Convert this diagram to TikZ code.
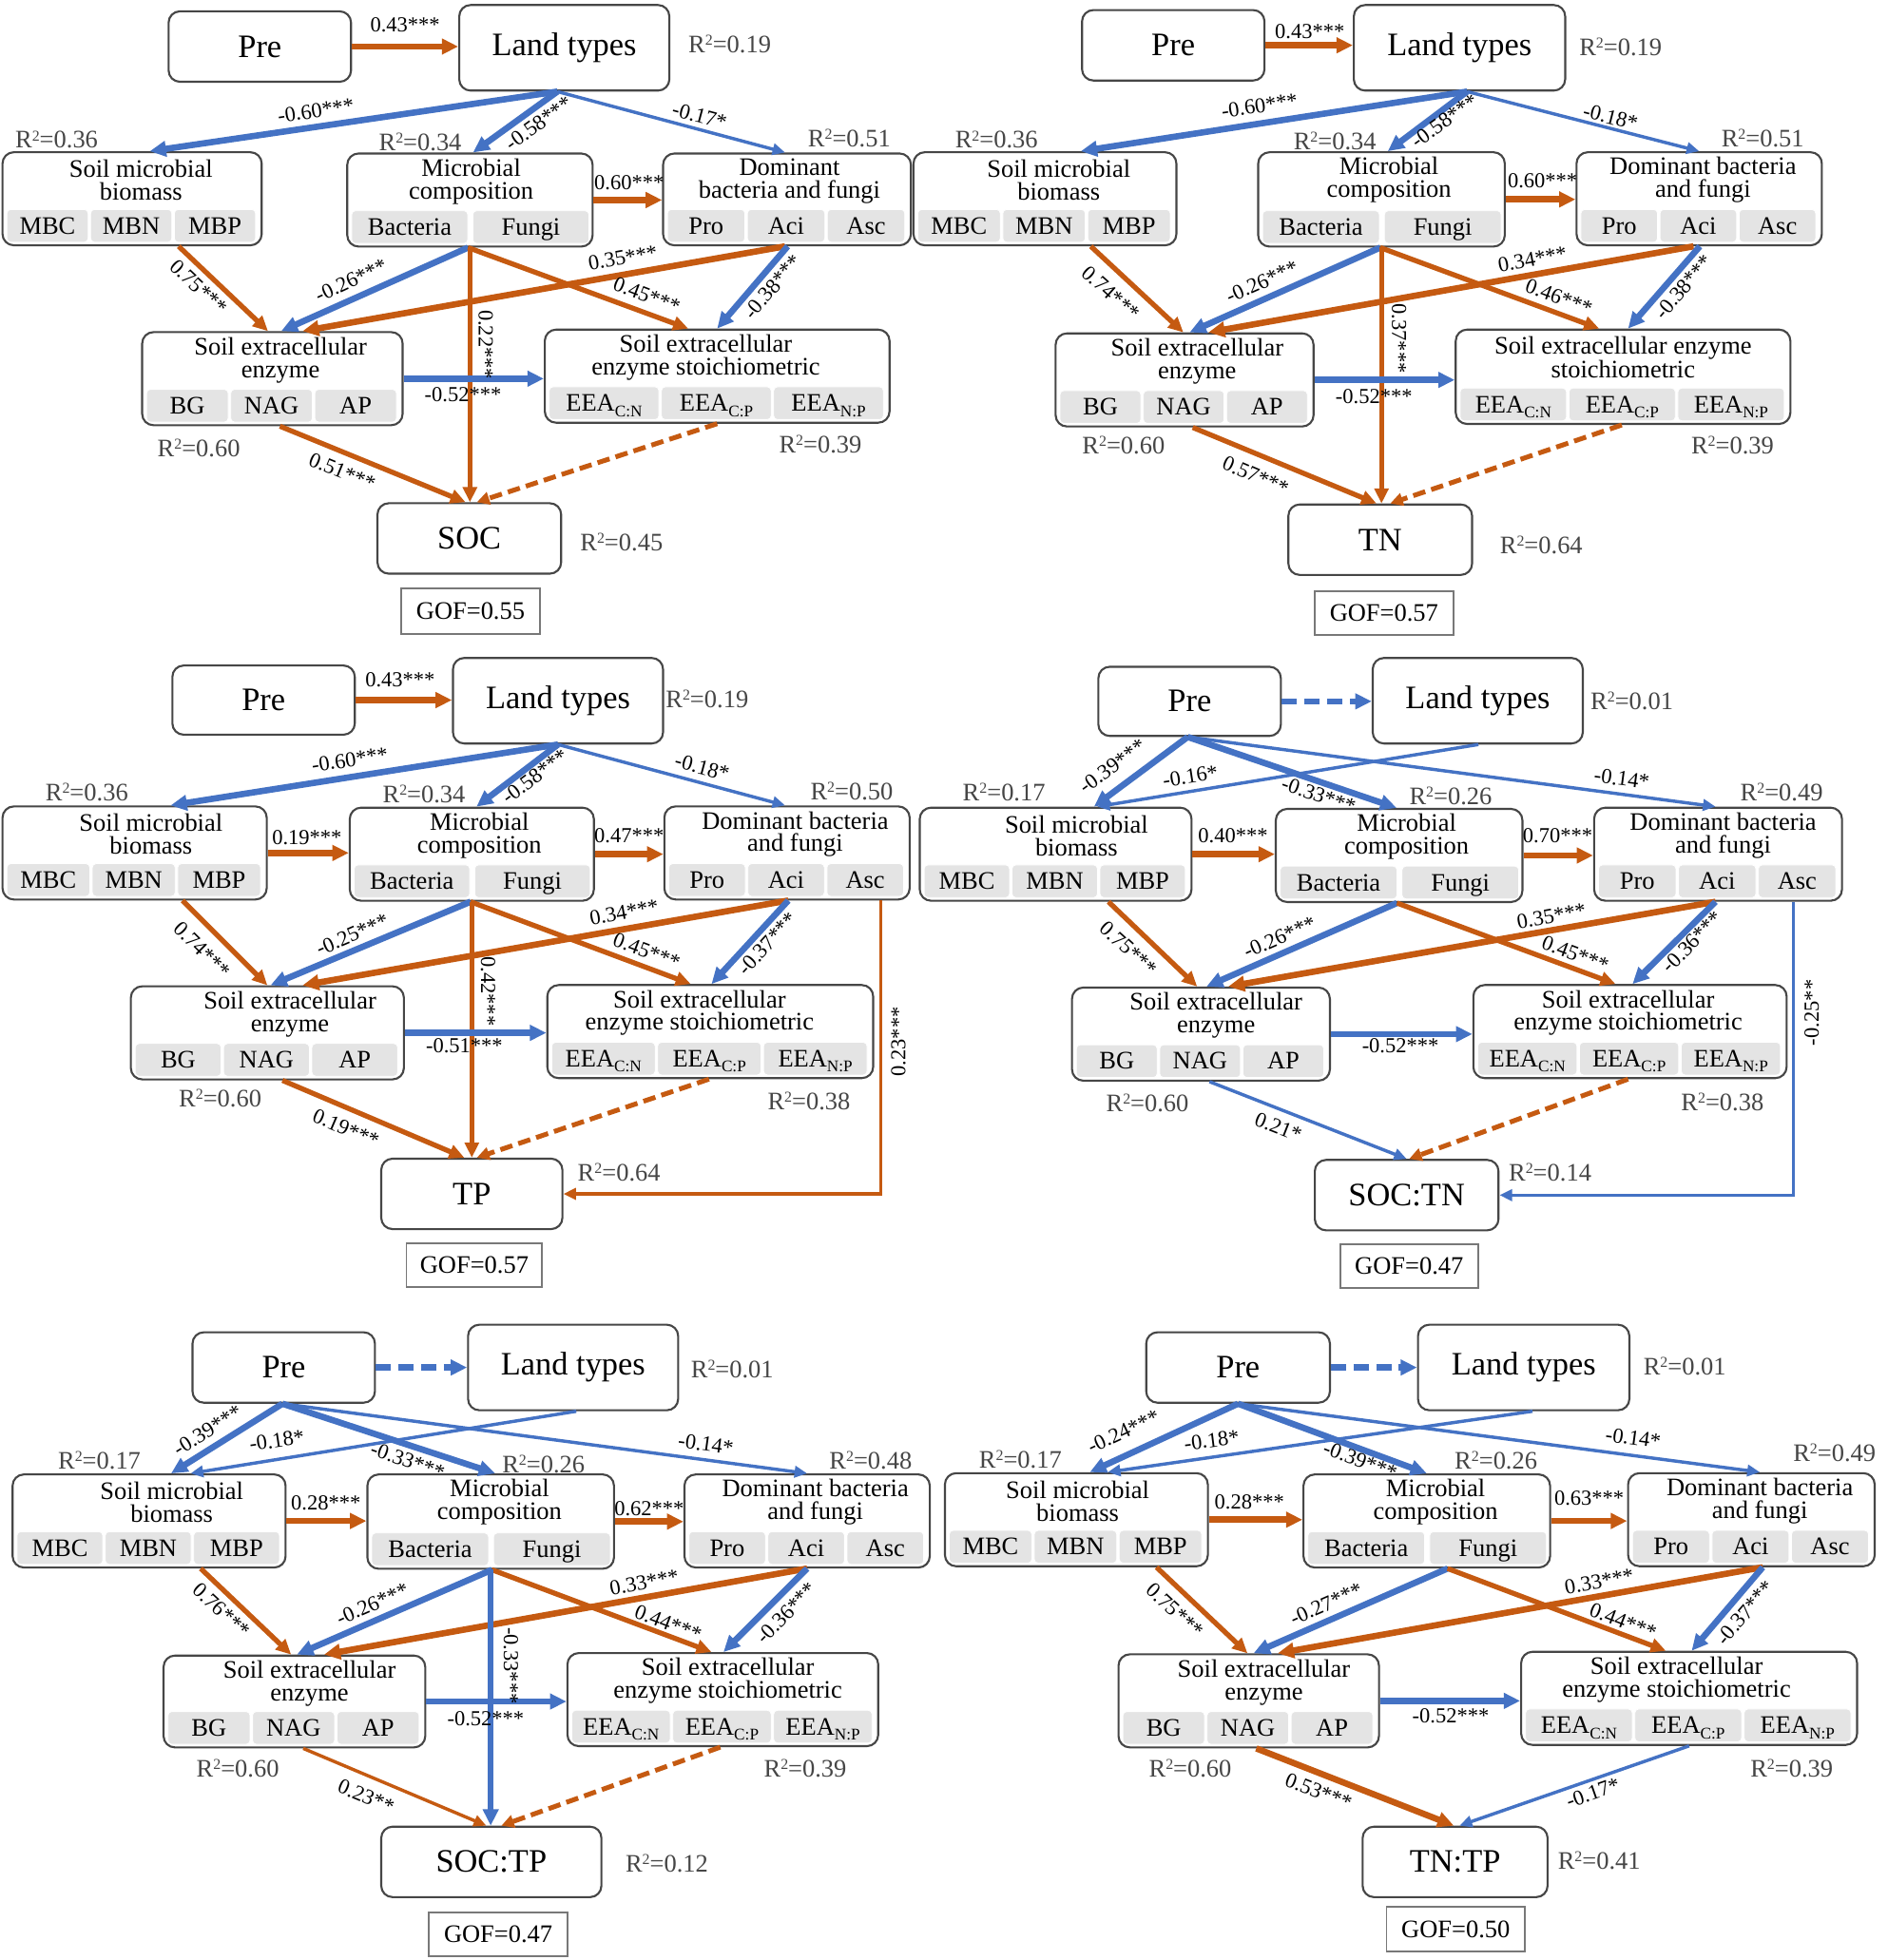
\documentclass[tikz,border=0pt]{standalone}
\usepackage{fontspec}
\setmainfont{Liberation Serif}
\usetikzlibrary{arrows.meta,fit,calc}
\definecolor{orng}{RGB}{197,90,17}
\definecolor{blu}{RGB}{68,114,196}
\definecolor{bordr}{RGB}{70,70,70}
\definecolor{cellg}{RGB}{228,228,228}
\definecolor{rgray}{RGB}{70,70,70}
\definecolor{gofc}{RGB}{120,120,120}
\newcommand\fs[1]{\fontsize{#1}{#1}\selectfont}
\newcommand\fsb[2]{\fontsize{#1}{#2}\selectfont}
\newcommand\subx[1]{\raisebox{-4pt}{\fontsize{13}{13}\selectfont #1}}
\newcommand\rsq[1]{R\raisebox{6pt}{\fontsize{12}{12}\selectfont 2}=#1}
\tikzset{
  bigbox/.style={draw=bordr, line width=1.6pt, rounded corners=9pt, inner sep=0pt, fill=white},
  subbox/.style={draw=bordr, line width=1.6pt, rounded corners=9pt, inner sep=0pt, fill=white},
  gofbox/.style={draw=gofc, line width=1.5pt, inner sep=0pt, fill=white},
  bigtxt/.style={font=\fs{26}, inner sep=0pt},
  goft/.style={font=\fs{20}, inner sep=0pt},
  ttl/.style={font=\fsb{20}{18}, align=center, inner sep=0pt},
  cellbox/.style={rectangle, rounded corners=3pt, fill=cellg, draw=white, line width=0.6pt,
    minimum height=26pt, inner sep=0pt, text height=13pt, text depth=0pt, font=\fs{20}},
  lbl/.style={font=\fs{17}, inner sep=0pt},
  rtw/.style={font=\fs{20}, text=rgray, inner sep=0pt},
  oThk/.style={draw=orng, line width=5pt, -{Triangle[length=13pt,width=12pt]}},
  oMid/.style={draw=orng, line width=4pt, -{Triangle[length=12pt,width=11pt]}},
  oThn/.style={draw=orng, line width=2.6pt, -{Triangle[length=10pt,width=9pt]}},
  bThk/.style={draw=blu, line width=5pt, -{Triangle[length=13pt,width=12pt]}},
  bMid/.style={draw=blu, line width=4pt, -{Triangle[length=12pt,width=11pt]}},
  bThn/.style={draw=blu, line width=2.6pt, -{Triangle[length=10pt,width=9pt]}},
  oDash/.style={draw=orng, line width=3.8pt, dash pattern=on 10pt off 5pt, -{Triangle[length=10pt,width=10pt]}},
  bDash/.style={draw=blu, line width=5pt, dash pattern=on 12pt off 6pt, -{Triangle[length=13pt,width=12pt]}}
}
\newcommand\bgbox[6]{\node[bigbox, fit={(#2,#3)(#4,#5)}] (#1) {}; \node[bigtxt] (#1t) at (#1.center) {#6};}
\newcommand\sbbox[7]{\node[subbox, fit={(#2,#3)(#4,#5)}] (#1) {}; \node[ttl] (#1t) at ([xshift=#6pt,yshift=-23pt]#1.north) {#7};}
\newcommand\gfbox[6]{\node[gofbox, fit={(#2,#3)(#4,#5)}] (#1) {}; \node[goft] (#1t) at (#1.center) {#6};}
\newcommand\cellsiii[4]{%
  \path let \p1=(#1.south west), \p2=(#1.south east), \n1={(\x2-\x1-14pt)/3} in
    node[cellbox, minimum width=\n1*1pt, anchor=south west] (#1a) at (\x1+4pt,\y1+3pt) {#2}
    node[cellbox, minimum width=\n1*1pt, anchor=south west] (#1b) at (\x1+6pt+\n1*1pt,\y1+3pt) {#3}
    node[cellbox, minimum width=\n1*1pt, anchor=south west] (#1c) at (\x1+8pt+2*\n1*1pt,\y1+3pt) {#4};}
\newcommand\cellsii[3]{%
  \path let \p1=(#1.south west), \p2=(#1.south east), \n1={(\x2-\x1-12pt)/2} in
    node[cellbox, minimum width=\n1*1pt, anchor=south west] (#1a) at (\x1+4pt,\y1+3pt) {#2}
    node[cellbox, minimum width=\n1*1pt, anchor=south west] (#1b) at (\x1+8pt+\n1*1pt,\y1+3pt) {#3};}
\newcommand\plbl[5]{\node[lbl, rotate=#4] (#1) at (#2,#3) {#5};}
\newcommand\rtwo[4]{\node[rtw] (#1) at (#2,#3) {\rsq{#4}};}
\newcommand\stdcells[1]{%
  \cellsiii{#1smb}{MBC}{MBN}{MBP}
  \cellsii{#1mc}{Bacteria}{Fungi}
  \cellsiii{#1dbf}{Pro}{Aci}{Asc}
  \cellsiii{#1see}{BG}{NAG}{AP}
  \cellsiii{#1sees}{EEA\subx{C:N}}{EEA\subx{C:P}}{EEA\subx{N:P}}}

\begin{document}
\begin{tikzpicture}[x=1pt,y=-1pt]
\fill[white] (0,0) rectangle (1500,1558);
\useasboundingbox (0,0) rectangle (1500,1558);

% ================= Panel 1 =================
\bgbox{p1pre}{134}{9}{279}{65}{Pre}
\bgbox{p1lt}{365}{4}{532}{72}{Land types}
\sbbox{p1smb}{2}{121}{208}{195}{7}{Soil microbial\\biomass}
\sbbox{p1mc}{276}{122}{471}{196}{1}{Microbial\\composition}
\sbbox{p1dbf}{527}{122}{724}{195}{2}{Dominant\\bacteria and fungi}
\sbbox{p1see}{113}{264}{320}{338}{6.5}{Soil extracellular\\enzyme}
\sbbox{p1sees}{433}{262}{707}{336}{-9}{Soil extracellular\\enzyme stoichiometric}
\stdcells{p1}
\bgbox{p1out}{300}{400}{446}{456}{SOC}
\gfbox{p1gof}{319}{468}{429}{504}{GOF=0.55}

\draw[oThk] (p1pre.east) -- (p1pre.east -| p1lt.west);
\draw[bThk] ([xshift=-5.5pt]p1lt.south) -- ([xshift=14pt]p1smb.north);
\draw[bThk] ([xshift=-5.5pt]p1lt.south) -- ([xshift=2.5pt]p1mc.north);
\draw[bThn] ([xshift=-5.5pt]p1lt.south) -- ([xshift=-1.5pt]p1dbf.north);
\draw[oThk] (p1mc.east) -- (p1mc.east -| p1dbf.west);
\draw[oMid] ([xshift=37pt]p1smb.south) -- ([xshift=-3.5pt]p1see.north);
\draw[bThk] ([xshift=-1.5pt]p1mc.south) -- ([xshift=7pt]p1see.north);
\draw[oThk] ([xshift=-1.5pt]p1dbf.south) -- ([xshift=24pt]p1see.north);
\draw[oMid] ([xshift=-1.5pt]p1mc.south) -- ([xshift=-23pt]p1sees.north);
\draw[bThk] ([xshift=0.5pt]p1dbf.south) -- (p1sees.north);
\draw[oMid] (p1mc.south) -- (p1mc.south |- p1out.north);
\draw[bThk] (p1see.east) -- (p1see.east -| p1sees.west);
\draw[oMid] ([xshift=6pt]p1see.south) -- ([xshift=-3pt]p1out.north);
\draw[oDash] (p1sees.south) -- ([xshift=6pt]p1out.north);

\rtwo{p1r1}{580}{35}{0.19}
\rtwo{p1r2}{45}{111}{0.36}
\rtwo{p1r3}{334}{113}{0.34}
\rtwo{p1r4}{675}{110}{0.51}
\rtwo{p1r5}{158}{356}{0.60}
\rtwo{p1r6}{652}{353}{0.39}
\rtwo{p1r7}{494}{431}{0.45}

\plbl{p1a}{322}{20}{0}{0.43***}
\plbl{p1b}{251}{88}{8.6}{-0.60***}
\plbl{p1c}{428}{98}{35.6}{-0.58***}
\plbl{p1d}{556}{92}{-15.1}{-0.17*}
\plbl{p1e}{500}{145}{0}{0.60***}
\plbl{p1f}{158}{228}{-43.3}{0.75***}
\plbl{p1g}{279}{223}{24.8}{-0.26***}
\plbl{p1h}{495}{205}{10}{0.35***}
\plbl{p1i}{514}{235}{-21}{0.45***}
\plbl{p1j}{614}{228}{49.7}{-0.38***}
\plbl{p1k}{386}{274}{-90}{0.22***}
\plbl{p1l}{368}{314}{0}{-0.52***}
\plbl{p1m}{272}{375}{-22.4}{0.51***}

% ================= Panel 2 =================
\bgbox{p2pre}{860}{8}{1005}{64}{Pre}
\bgbox{p2lt}{1076}{4}{1244}{72}{Land types}
\sbbox{p2smb}{726}{121}{935}{195}{11}{Soil microbial\\biomass}
\sbbox{p2mc}{1000}{121}{1196}{196}{6}{Microbial\\composition}
\sbbox{p2dbf}{1253}{121}{1448}{195}{3}{Dominant bacteria\\and fungi}
\sbbox{p2see}{839}{265}{1044}{339}{10}{Soil extracellular\\enzyme}
\sbbox{p2sees}{1157}{262}{1423}{337}{0}{Soil extracellular enzyme\\stoichiometric}
\stdcells{p2}
\bgbox{p2out}{1024}{401}{1170}{457}{TN}
\gfbox{p2gof}{1045}{470}{1155}{505}{GOF=0.57}

\draw[oThk] (p2pre.east) -- (p2pre.east -| p2lt.west);
\draw[bThk] ([xshift=6pt]p2lt.south) -- ([xshift=28.5pt]p2smb.north);
\draw[bThk] ([xshift=6pt]p2lt.south) -- ([xshift=5pt]p2mc.north);
\draw[bThn] ([xshift=6pt]p2lt.south) -- (p2dbf.north);
\draw[oThk] (p2mc.east) -- (p2mc.east -| p2dbf.west);
\draw[oMid] ([xshift=36.5pt]p2smb.south) -- ([xshift=-1pt]p2see.north);
\draw[bThk] ([xshift=-1pt]p2mc.south) -- ([xshift=4pt]p2see.north);
\draw[oThk] ([xshift=-4.5pt]p2dbf.south) -- ([xshift=19pt]p2see.north);
\draw[oMid] ([xshift=-1pt]p2mc.south) -- ([xshift=-19pt]p2sees.north);
\draw[bThk] ([xshift=0.5pt]p2dbf.south) -- ([xshift=4pt]p2sees.north);
\draw[oMid] (p2mc.south) -- (p2mc.south |- p2out.north);
\draw[bThk] (p2see.east) -- (p2see.east -| p2sees.west);
\draw[oMid] ([xshift=6.5pt]p2see.south) -- ([xshift=-3pt]p2out.north);
\draw[oDash] ([xshift=-1pt]p2sees.south) -- ([xshift=8pt]p2out.north);

\rtwo{p2r1}{1288}{37}{0.19}
\rtwo{p2r2}{792}{111}{0.36}
\rtwo{p2r3}{1061}{112}{0.34}
\rtwo{p2r4}{1401}{110}{0.51}
\rtwo{p2r5}{893}{354}{0.60}
\rtwo{p2r6}{1377}{354}{0.39}
\rtwo{p2r7}{1225}{433}{0.64}

\plbl{p2a}{1041}{25}{0}{0.43***}
\plbl{p2b}{1001}{84}{8.3}{-0.60***}
\plbl{p2c}{1148}{96}{35.6}{-0.58***}
\plbl{p2d}{1280}{93}{-14.3}{-0.18*}
\plbl{p2e}{1226}{144}{0}{0.60***}
\plbl{p2f}{883}{233}{-41.9}{0.74***}
\plbl{p2g}{1003}{224}{24}{-0.26***}
\plbl{p2h}{1218}{206}{10.4}{0.34***}
\plbl{p2i}{1239}{236}{-20.8}{0.46***}
\plbl{p2j}{1338}{228}{49.4}{-0.38***}
\plbl{p2k}{1112}{269}{-90}{0.37***}
\plbl{p2l}{1092}{315}{0}{-0.52***}
\plbl{p2m}{998}{378}{-23.3}{0.57***}

% ================= Panel 3 =================
\bgbox{p3pre}{137}{529}{282}{584}{Pre}
\bgbox{p3lt}{360}{523}{527}{591}{Land types}
\sbbox{p3smb}{2}{641}{212}{715}{13}{Soil microbial\\biomass}
\sbbox{p3mc}{278}{642}{472}{716}{6}{Microbial\\composition}
\sbbox{p3dbf}{528}{641}{723}{715}{6.5}{Dominant bacteria\\and fungi}
\sbbox{p3see}{104}{784}{321}{858}{18}{Soil extracellular\\enzyme}
\sbbox{p3sees}{435}{783}{694}{857}{-8.5}{Soil extracellular\\enzyme stoichiometric}
\stdcells{p3}
\bgbox{p3out}{303}{921}{447}{977}{TP}
\gfbox{p3gof}{323}{988}{431}{1023}{GOF=0.57}

\draw[oThk] (p3pre.east) -- (p3pre.east -| p3lt.west);
\draw[bThk] (p3lt.south) -- ([xshift=28.6pt]p3smb.north);
\draw[bThk] (p3lt.south) -- ([xshift=3.7pt]p3mc.north);
\draw[bThn] (p3lt.south) -- ([xshift=-1.5pt]p3dbf.north);
\draw[oThk] (p3smb.east) -- (p3smb.east -| p3mc.west);
\draw[oThk] (p3mc.east) -- (p3mc.east -| p3dbf.west);
\draw[oMid] ([xshift=38pt]p3smb.south) -- (p3see.north);
\draw[bThk] ([xshift=-1pt]p3mc.south) -- ([xshift=2.5pt]p3see.north);
\draw[oThk] ([xshift=1pt]p3dbf.south) -- ([xshift=28pt]p3see.north);
\draw[oMid] ([xshift=-1pt]p3mc.south) -- ([xshift=-15.5pt]p3sees.north);
\draw[bThk] ([xshift=1pt]p3dbf.south) -- ([xshift=1pt]p3sees.north);
\draw[oMid] (p3mc.south) -- (p3mc.south |- p3out.north);
\draw[bThk] (p3see.east) -- (p3see.east -| p3sees.west);
\draw[oMid] ([xshift=12pt]p3see.south) -- ([xshift=-6pt]p3out.north);
\draw[oDash] ([xshift=-1pt]p3sees.south) -- ([xshift=4pt]p3out.north);
\draw[oThn] ([xshift=74.5pt]p3dbf.south) |- (p3out.east);

\rtwo{p3r1}{562}{556}{0.19}
\rtwo{p3r2}{69}{630}{0.36}
\rtwo{p3r3}{337}{631}{0.34}
\rtwo{p3r4}{677}{629}{0.50}
\rtwo{p3r5}{175}{873}{0.60}
\rtwo{p3r6}{643}{875}{0.38}
\rtwo{p3r7}{492}{932}{0.64}

\plbl{p3a}{318}{540}{0}{0.43***}
\plbl{p3b}{278}{604}{8.7}{-0.60***}
\plbl{p3c}{425}{617}{36.7}{-0.58***}
\plbl{p3d}{558}{610}{-14.9}{-0.18*}
\plbl{p3e}{244}{666}{0}{0.19***}
\plbl{p3f}{500}{664}{0}{0.47***}
\plbl{p3g}{161}{755}{-44.8}{0.74***}
\plbl{p3h}{280}{743}{23.2}{-0.25***}
\plbl{p3i}{496}{725}{10.2}{0.34***}
\plbl{p3j}{514}{756}{-20.6}{0.45***}
\plbl{p3k}{610}{750}{47.3}{-0.37***}
\plbl{p3l}{388}{788}{-90}{0.42***}
\plbl{p3m}{369}{831}{0}{-0.51***}
\plbl{p3n}{275}{897}{-23.2}{0.19***}
\plbl{p3o}{714}{828}{90}{0.23***}

% ================= Panel 4 =================
\bgbox{p4pre}{873}{530}{1018}{585}{Pre}
\bgbox{p4lt}{1091}{523}{1258}{591}{Land types}
\sbbox{p4smb}{731}{642}{947}{716}{16.6}{Soil microbial\\biomass}
\sbbox{p4mc}{1014}{643}{1210}{717}{6}{Microbial\\composition}
\sbbox{p4dbf}{1267}{642}{1464}{716}{4}{Dominant bacteria\\and fungi}
\sbbox{p4see}{852}{785}{1057}{859}{12}{Soil extracellular\\enzyme}
\sbbox{p4sees}{1171}{783}{1420}{857}{-1.5}{Soil extracellular\\enzyme stoichiometric}
\stdcells{p4}
\bgbox{p4out}{1045}{922}{1191}{978}{SOC:TN}
\gfbox{p4gof}{1065}{989}{1175}{1024}{GOF=0.47}

\draw[bDash] (p4pre.east) -- (p4pre.east -| p4lt.west);
\draw[bThk] ([xshift=-1.5pt]p4pre.south) -- ([xshift=30.5pt]p4smb.north);
\draw[bThn] ([xshift=0.5pt]p4lt.south) -- ([xshift=33pt]p4smb.north);
\draw[bThk] ([xshift=-1.5pt]p4pre.south) -- ([xshift=-2pt]p4mc.north);
\draw[bThn] ([xshift=-1.5pt]p4pre.south) -- ([xshift=-2pt]p4dbf.north);
\draw[oThk] (p4smb.east) -- (p4smb.east -| p4mc.west);
\draw[oThk] (p4mc.east) -- (p4mc.east -| p4dbf.west);
\draw[oMid] ([xshift=42pt]p4smb.south) -- ([xshift=-3pt]p4see.north);
\draw[bThk] ([xshift=-1.7pt]p4mc.south) -- ([xshift=4.4pt]p4see.north);
\draw[oThk] ([xshift=-2pt]p4dbf.south) -- ([xshift=21.7pt]p4see.north);
\draw[oMid] ([xshift=-1.7pt]p4mc.south) -- ([xshift=-11.5pt]p4sees.north);
\draw[bThk] ([xshift=-2pt]p4dbf.south) -- ([xshift=2pt]p4sees.north);
\draw[bThk] (p4see.east) -- (p4see.east -| p4sees.west);
\draw[bThn] ([xshift=6.8pt]p4see.south) -- (p4out.north);
\draw[oDash] ([xshift=-1.5pt]p4sees.south) -- ([xshift=2pt]p4out.north);
\draw[bThn] ([xshift=60pt]p4dbf.south) |- (p4out.east);

\rtwo{p4r1}{1297}{557}{0.01}
\rtwo{p4r2}{798}{630}{0.17}
\rtwo{p4r3}{1153}{633}{0.26}
\rtwo{p4r4}{1416}{630}{0.49}
\rtwo{p4r5}{912}{877}{0.60}
\rtwo{p4r6}{1369}{876}{0.38}
\rtwo{p4r7}{1232}{932}{0.14}

\plbl{p4a}{884}{609}{36.1}{-0.39***}
\plbl{p4b}{946}{617}{8.8}{-0.16*}
\plbl{p4c}{1048}{632}{-19.1}{-0.33***}
\plbl{p4d}{1289}{619}{-7.5}{-0.14*}
\plbl{p4e}{980}{664}{0}{0.40***}
\plbl{p4f}{1238}{664}{0}{0.70***}
\plbl{p4g}{897}{754}{-42.4}{0.75***}
\plbl{p4h}{1017}{745}{23.7}{-0.26***}
\plbl{p4i}{1233}{728}{10}{0.35***}
\plbl{p4j}{1252}{758}{-20.8}{0.45***}
\plbl{p4k}{1345}{749}{45}{-0.36***}
\plbl{p4l}{1113}{831}{0}{-0.52***}
\plbl{p4m}{1016}{896}{-21.5}{0.21*}
\plbl{p4n}{1440}{805}{90}{-0.25**}

% ================= Panel 5 =================
\bgbox{p5pre}{153}{1059}{298}{1115}{Pre}
\bgbox{p5lt}{372}{1053}{539}{1121}{Land types}
\sbbox{p5smb}{10}{1172}{227}{1246}{18}{Soil microbial\\biomass}
\sbbox{p5mc}{292}{1172}{488}{1247}{7}{Microbial\\composition}
\sbbox{p5dbf}{544}{1172}{739}{1246}{6.5}{Dominant bacteria\\and fungi}
\sbbox{p5see}{130}{1316}{338}{1389}{12}{Soil extracellular\\enzyme}
\sbbox{p5sees}{451}{1314}{698}{1388}{4}{Soil extracellular\\enzyme stoichiometric}
\stdcells{p5}
\bgbox{p5out}{303}{1452}{478}{1508}{SOC:TP}
\gfbox{p5gof}{341}{1520}{451}{1555}{GOF=0.47}

\draw[bDash] (p5pre.east) -- (p5pre.east -| p5lt.west);
\draw[bThk] ([xshift=-1pt]p5pre.south) -- ([xshift=17.5pt]p5smb.north);
\draw[bThn] ([xshift=2.5pt]p5lt.south) -- ([xshift=33pt]p5smb.north);
\draw[bThk] ([xshift=-1pt]p5pre.south) -- ([xshift=3.6pt]p5mc.north);
\draw[bThn] ([xshift=-1pt]p5pre.south) -- (p5dbf.north);
\draw[oThk] (p5smb.east) -- (p5smb.east -| p5mc.west);
\draw[oThk] (p5mc.east) -- (p5mc.east -| p5dbf.west);
\draw[oMid] ([xshift=41pt]p5smb.south) -- ([xshift=-2.6pt]p5see.north);
\draw[bThk] ([xshift=1pt]p5mc.south) -- ([xshift=2pt]p5see.north);
\draw[oThk] (p5dbf.south) -- ([xshift=23.6pt]p5see.north);
\draw[oMid] ([xshift=1pt]p5mc.south) -- ([xshift=-9pt]p5sees.north);
\draw[bThk] (p5dbf.south) -- ([xshift=0.5pt]p5sees.north);
\draw[bThk] (p5mc.south) -- (p5mc.south |- p5out.north);
\draw[bThk] (p5see.east) -- (p5see.east -| p5sees.west);
\draw[oThn] ([xshift=7pt]p5see.south) -- ([xshift=-4pt]p5out.north);
\draw[oDash] ([xshift=-2pt]p5sees.south) -- ([xshift=8pt]p5out.north);

\rtwo{p5r1}{582}{1088}{0.01}
\rtwo{p5r2}{79}{1161}{0.17}
\rtwo{p5r3}{432}{1164}{0.26}
\rtwo{p5r4}{692}{1161}{0.48}
\rtwo{p5r5}{189}{1406}{0.60}
\rtwo{p5r6}{640}{1406}{0.39}
\rtwo{p5r7}{530}{1481}{0.12}

\plbl{p5a}{165}{1137}{31.7}{-0.39***}
\plbl{p5b}{220}{1145}{8.5}{-0.18*}
\plbl{p5c}{324}{1161}{-19.3}{-0.33***}
\plbl{p5d}{561}{1148}{-7.9}{-0.14*}
\plbl{p5e}{259}{1195}{0}{0.28***}
\plbl{p5f}{516}{1199}{0}{0.62***}
\plbl{p5g}{176}{1280}{-42.7}{0.76***}
\plbl{p5h}{296}{1275}{23.7}{-0.26***}
\plbl{p5i}{512}{1258}{10.3}{0.33***}
\plbl{p5j}{531}{1290}{-21}{0.44***}
\plbl{p5k}{625}{1282}{45.7}{-0.36***}
\plbl{p5l}{406}{1324}{-90}{-0.33***}
\plbl{p5m}{386}{1366}{0}{-0.52***}
\plbl{p5n}{291}{1428}{-22.8}{0.23**}

% ================= Panel 6 =================
\bgbox{p6pre}{911}{1059}{1057}{1115}{Pre}
\bgbox{p6lt}{1127}{1053}{1295}{1121}{Land types}
\sbbox{p6smb}{751}{1171}{960}{1245}{1}{Soil microbial\\biomass}
\sbbox{p6mc}{1036}{1172}{1232}{1246}{7}{Microbial\\composition}
\sbbox{p6dbf}{1294}{1171}{1490}{1245}{6.7}{Dominant bacteria\\and fungi}
\sbbox{p6see}{889}{1315}{1096}{1389}{12}{Soil extracellular\\enzyme}
\sbbox{p6sees}{1209}{1313}{1476}{1387}{-10}{Soil extracellular\\enzyme stoichiometric}
\stdcells{p6}
\bgbox{p6out}{1083}{1452}{1230}{1508}{TN:TP}
\gfbox{p6gof}{1102}{1516}{1212}{1551}{GOF=0.50}

\draw[bDash] (p6pre.east) -- (p6pre.east -| p6lt.west);
\draw[bThk] (p6pre.south) -- ([xshift=10.7pt]p6smb.north);
\draw[bThn] ([xshift=7pt]p6lt.south) -- ([xshift=25pt]p6smb.north);
\draw[bThk] (p6pre.south) -- (p6mc.north);
\draw[bThn] (p6pre.south) -- ([xshift=6.7pt]p6dbf.north);
\draw[oThk] (p6smb.east) -- (p6smb.east -| p6mc.west);
\draw[oThk] (p6mc.east) -- (p6mc.east -| p6dbf.west);
\draw[oMid] ([xshift=63.7pt]p6smb.south) -- ([xshift=-1pt]p6see.north);
\draw[bThk] ([xshift=16.5pt]p6mc.south) -- ([xshift=3.8pt]p6see.north);
\draw[oThk] ([xshift=9pt]p6dbf.south) -- ([xshift=23pt]p6see.north);
\draw[oMid] ([xshift=16.5pt]p6mc.south) -- ([xshift=-18.5pt]p6sees.north);
\draw[bThk] ([xshift=9pt]p6dbf.south) -- ([xshift=2pt]p6sees.north);
\draw[bThk] (p6see.east) -- (p6see.east -| p6sees.west);
\draw[oThk] ([xshift=6pt]p6see.south) -- ([xshift=-1pt]p6out.north);
\draw[bThn] (p6sees.south) -- ([xshift=3.5pt]p6out.north);

\rtwo{p6r1}{1339}{1086}{0.01}
\rtwo{p6r2}{811}{1160}{0.17}
\rtwo{p6r3}{1189}{1161}{0.26}
\rtwo{p6r4}{1458}{1155}{0.49}
\rtwo{p6r5}{946}{1406}{0.60}
\rtwo{p6r6}{1424}{1406}{0.39}
\rtwo{p6r7}{1271}{1479}{0.41}

\plbl{p6a}{893}{1138}{25}{-0.24***}
\plbl{p6b}{963}{1145}{7.1}{-0.18*}
\plbl{p6c}{1081}{1161}{-20.8}{-0.39***}
\plbl{p6d}{1298}{1143}{-7.8}{-0.14*}
\plbl{p6e}{993}{1194}{0}{0.28***}
\plbl{p6f}{1263}{1191}{0}{0.63***}
\plbl{p6g}{934}{1280}{-42.9}{0.75***}
\plbl{p6h}{1054}{1275}{23.9}{-0.27***}
\plbl{p6i}{1271}{1257}{10.2}{0.33***}
\plbl{p6j}{1290}{1289}{-21}{0.44***}
\plbl{p6k}{1387}{1282}{49.5}{-0.37***}
\plbl{p6l}{1153}{1364}{0}{-0.52***}
\plbl{p6m}{1048}{1424}{-21.3}{0.53***}
\plbl{p6n}{1266}{1425}{19.3}{-0.17*}
\end{tikzpicture}
\end{document}
